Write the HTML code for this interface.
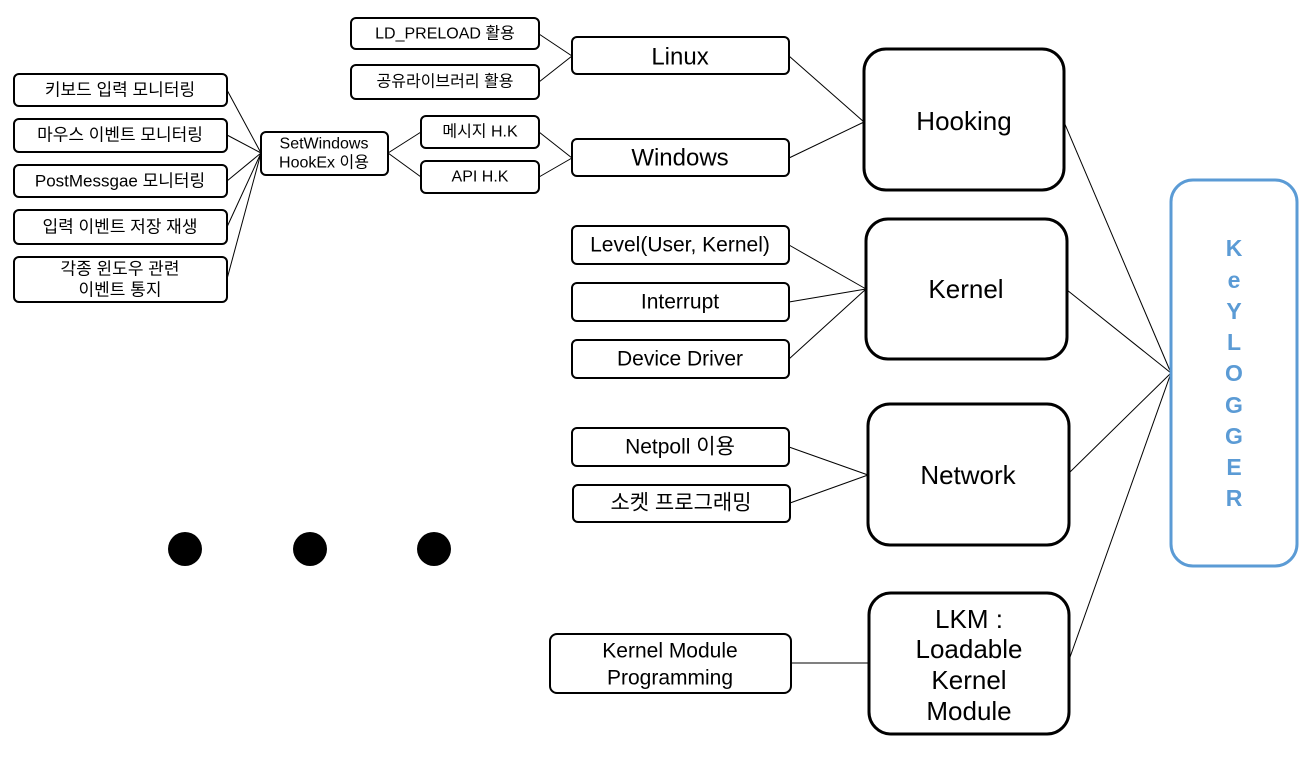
<!DOCTYPE html>
<html><head><meta charset="utf-8"><style>
html,body{margin:0;padding:0;background:#fff;}
svg{display:block;}
text{font-family:"Liberation Sans","Noto Sans CJK KR",sans-serif;fill:#000;text-anchor:middle;dominant-baseline:central;}
</style></head><body>
<svg width="1312" height="762" viewBox="0 0 1312 762" xmlns="http://www.w3.org/2000/svg">
<g stroke="#000" stroke-width="1" fill="none">
<line x1="539" y1="34" x2="572" y2="56"/><line x1="539" y1="82" x2="572" y2="56"/>
<line x1="539" y1="132" x2="572" y2="158"/><line x1="539" y1="177" x2="572" y2="158"/>
<line x1="388" y1="153" x2="421" y2="132"/><line x1="388" y1="153" x2="421" y2="177"/>
<line x1="261" y1="153" x2="227" y2="90"/><line x1="261" y1="153" x2="227" y2="135"/>
<line x1="261" y1="153" x2="227" y2="181"/><line x1="261" y1="153" x2="227" y2="227"/>
<line x1="261" y1="153" x2="227" y2="279"/>
<line x1="789" y1="56" x2="864" y2="122"/><line x1="789" y1="158" x2="864" y2="122"/>
<line x1="789" y1="245" x2="866" y2="289"/><line x1="789" y1="302" x2="866" y2="289"/><line x1="789" y1="359" x2="866" y2="289"/>
<line x1="789" y1="447" x2="868" y2="475"/><line x1="790" y1="503" x2="868" y2="475"/>
<line x1="791" y1="663" x2="869" y2="663"/>
<line x1="1064" y1="122" x2="1171" y2="373"/><line x1="1067" y1="290" x2="1171" y2="373"/>
<line x1="1069" y1="473" x2="1171" y2="373"/><line x1="1069" y1="660" x2="1171" y2="373"/>
</g>
<g stroke="#000" stroke-width="2" fill="#fff">
<rect x="351" y="18" width="188" height="31" rx="5"/>
<rect x="351" y="65" width="188" height="34" rx="5"/>
<rect x="572" y="37" width="217" height="37" rx="5"/>
<rect x="572" y="139" width="217" height="37" rx="5"/>
<rect x="421" y="116" width="118" height="32" rx="5"/>
<rect x="421" y="161" width="118" height="32" rx="5"/>
<rect x="261" y="132" width="127" height="43" rx="5"/>
<rect x="14" y="74" width="213" height="32" rx="5"/>
<rect x="14" y="119" width="213" height="33" rx="5"/>
<rect x="14" y="165" width="213" height="32" rx="5"/>
<rect x="14" y="210" width="213" height="34" rx="5"/>
<rect x="14" y="257" width="213" height="45" rx="5"/>
<rect x="572" y="226" width="217" height="38" rx="5"/>
<rect x="572" y="283" width="217" height="38" rx="5"/>
<rect x="572" y="340" width="217" height="38" rx="5"/>
<rect x="572" y="428" width="217" height="38" rx="5"/>
<rect x="573" y="485" width="217" height="37" rx="5"/>
<rect x="550" y="634" width="241" height="59" rx="7"/>
</g>
<g stroke="#000" stroke-width="3" fill="#fff">
<rect x="864" y="49" width="200" height="141" rx="22"/>
<rect x="866" y="219" width="201" height="140" rx="22"/>
<rect x="868" y="404" width="201" height="141" rx="22"/>
<rect x="869" y="593" width="200" height="141" rx="22"/>
</g>
<rect x="1171" y="180" width="126" height="386" rx="22" fill="#fff" stroke="#5b9bd5" stroke-width="3"/>
<g fill="#000"><circle cx="185" cy="549" r="17"/><circle cx="310" cy="549" r="17"/><circle cx="434" cy="549" r="17"/></g>
<g font-size="16">
<text x="445" y="34">LD_PRELOAD 활용</text>
<text x="445" y="82">공유라이브러리 활용</text>
<text x="480" y="132">메시지 H.K</text>
<text x="480" y="177">API H.K</text>
<text x="324" y="144">SetWindows</text>
<text x="324" y="163">HookEx 이용</text>
</g>
<g font-size="17">
<text x="120" y="90">키보드 입력 모니터링</text>
<text x="120" y="135">마우스 이벤트 모니터링</text>
<text x="120" y="181">PostMessgae 모니터링</text>
<text x="120" y="227">입력 이벤트 저장 재생</text>
<text x="120" y="269">각종 윈도우 관련</text>
<text x="120" y="290">이벤트 통지</text>
</g>
<g font-size="24">
<text x="680" y="57">Linux</text>
<text x="680" y="158">Windows</text>
</g>
<g font-size="21">
<text x="680" y="245">Level(User, Kernel)</text>
<text x="680" y="302">Interrupt</text>
<text x="680" y="359">Device Driver</text>
<text x="680" y="447">Netpoll 이용</text>
<text x="681" y="503">소켓 프로그래밍</text>
<text x="670" y="651">Kernel Module</text>
<text x="670" y="678">Programming</text>
</g>
<g font-size="26">
<text x="964" y="121">Hooking</text>
<text x="966" y="289">Kernel</text>
<text x="968" y="475">Network</text>
<text x="969" y="619">LKM :</text>
<text x="969" y="649">Loadable</text>
<text x="969" y="680">Kernel</text>
<text x="969" y="711">Module</text>
</g>
<g font-size="23" font-weight="bold">
<text x="1234" y="248" style="fill:#5b9bd5">K</text>
<text x="1234" y="280" style="fill:#5b9bd5">e</text>
<text x="1234" y="311" style="fill:#5b9bd5">Y</text>
<text x="1234" y="342" style="fill:#5b9bd5">L</text>
<text x="1234" y="373" style="fill:#5b9bd5">O</text>
<text x="1234" y="405" style="fill:#5b9bd5">G</text>
<text x="1234" y="436" style="fill:#5b9bd5">G</text>
<text x="1234" y="467" style="fill:#5b9bd5">E</text>
<text x="1234" y="498" style="fill:#5b9bd5">R</text>
</g>
</svg>
</body></html>
